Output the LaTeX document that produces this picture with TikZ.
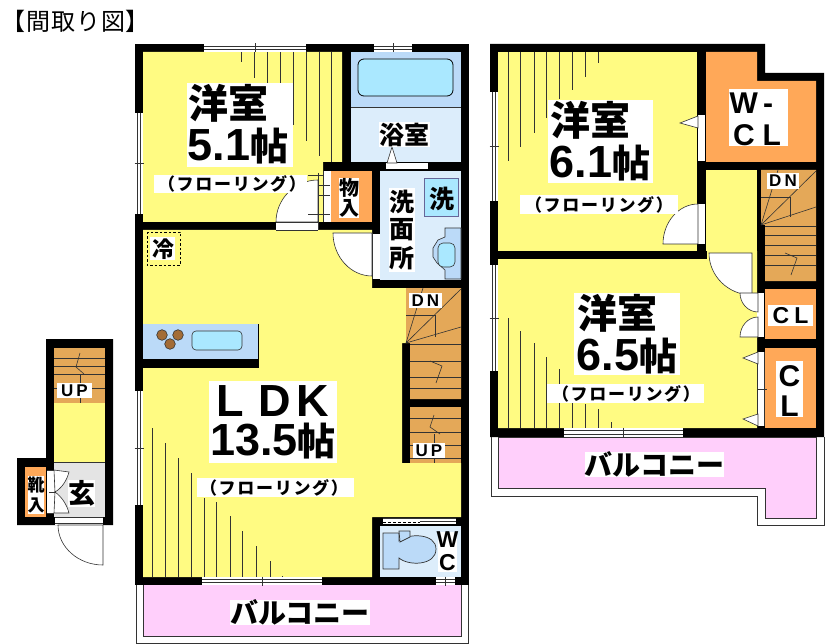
\documentclass[tikz,border=0pt]{standalone}
\usepackage{fontspec}
\setmainfont{Liberation Sans}
\newfontfamily\jpf{Noto Sans CJK JP}
\newcommand\fsz[1]{\fontsize{#1}{#1}\selectfont}
\definecolor{yel}{HTML}{FFFB82}
\definecolor{org}{HTML}{FFA858}
\definecolor{sta}{HTML}{E4A858}
\definecolor{pnk}{HTML}{FFCFFB}
\definecolor{blu}{HTML}{BBDAF8}
\definecolor{pal}{HTML}{DCEDFB}
\definecolor{cya}{HTML}{AAE8FF}
\definecolor{gra}{HTML}{E4E4E4}
\definecolor{lin}{HTML}{333333}
\tikzset{
 wall/.style={fill=black},
 thin line/.style={draw=lin,line width=.6pt},
 hatch/.style={draw=lin,line width=.8pt},
 txt/.style={inner sep=0pt,font=\jpf\bfseries},
 doorpanel/.style={fill=white,draw=lin,line width=.6pt},
}
\newcommand\hwin[4]{\fill[white] (#1,#2) rectangle (#3,#4);
 \draw[thin line] (#1,#2+2.5) -- (#3,#2+2.5) (#1,#4-2.5) -- (#3,#4-2.5);
 \draw[thin line] ({(#1+#3)/2},#2-.5) -- ({(#1+#3)/2},#4+.5);}
\newcommand\vwin[4]{\fill[white] (#1,#2) rectangle (#3,#4);
 \draw[thin line] (#1+2.5,#2) -- (#1+2.5,#4) (#3-2.5,#2) -- (#3-2.5,#4);
 \draw[thin line] (#1-.5,{(#2+#4)/2}) -- (#3+.5,{(#2+#4)/2});}
\newcommand\boxw[4]{\fill[white] (#1,#2) rectangle (#3,#4);}
% door sector: centre (#1,#2), leaf end (#3,#4), arc end (#5,#6)
\newcommand\qdoor[6]{\draw[doorpanel] (#3,#4) .. controls ({#3+.55*(#5-#1)},{#4+.55*(#6-#2)}) and ({#5+.55*(#3-#1)},{#6+.55*(#4-#2)}) .. (#5,#6) -- (#1,#2) -- cycle;}
\newcommand\floor[3]{\node[txt,font=\jpf\bfseries\fsz{17}\addfontfeature{LetterSpace=10}] (#1) at (#2,#3) {（フローリング）};}
\newcommand\roomt[5]{\node[txt,font=\jpf\bfseries\fsz{40}] (#1a) at (#2-10,#3) {洋室};
 \node[txt,font=\bfseries\fsz{45}] (#1b) at (#2,#3+43) {#4\jpf\fsz{38}#5};}
\begin{document}
\begin{tikzpicture}[x=1pt,y=-1pt]
\useasboundingbox (0,0) rectangle (829,644);
\fill[white] (0,0) rectangle (829,644);
\node[txt,font=\jpf\fsz{24}\addfontfeature{LetterSpace=4},anchor=west] (title) at (1,21) {【間取り図】};

%% ===== main left building =====
\fill[wall] (135,44) rectangle (469,585);
\fill[pnk] (143,585) rectangle (461,636);
\draw[thin line] (136,585) -- (136,643) -- (468,643) -- (468,585);
\draw[thin line] (143,585) -- (143,636) -- (461,636) -- (461,585);
\fill[yel] (143,52) -- (342,52) -- (342,162) -- (323,162) -- (323,222) -- (143,222) -- cycle;
\fill[org] (331,171) rectangle (372,222);
\fill[white] (323,171) rectangle (331,222);
\fill[blu] (351,52) rectangle (461,107);
\fill[pal] (351,107) rectangle (461,162);
\draw[thin line] (351,107) -- (461,107);
\draw[line width=.8pt,draw=black,fill=cya,rounded corners=6pt] (358,59) rectangle (453,96);
\fill[pal] (380,171) rectangle (461,280);
\draw[draw=gray!80!blue,line width=1pt,fill=cya] (424,179) rectangle (458,217);
\draw[thin line,fill=blu] (445,228) -- (461,228) -- (461,279) -- (445,279) -- (445,270) -- (437,263) -- (433,257) -- (433,248) -- (438,240) -- (445,237) -- cycle;
\draw[thin line,fill=cya,rounded corners=5pt] (438,243) rectangle (455,267);
\fill[yel] (143,230) -- (372,230) -- (372,288) -- (406,288) -- (406,343) -- (402,343) -- (402,463) -- (461,463) -- (461,517) -- (372,517) -- (372,577) -- (143,577) -- cycle;
\fill[wall] (143,324) rectangle (259,368);
\fill[blu] (143,324) rectangle (258,359);
\draw[thin line,fill=cya,rounded corners=4pt] (192,331) rectangle (242,350);
\draw[thin line,fill=brown!85!black] (162,335) circle (5.3);
\draw[thin line,fill=brown!85!black] (178,335) circle (5.3);
\draw[thin line,fill=brown!85!black] (170,344) circle (5.3);
\draw[line width=.8pt,draw=black,dash pattern=on 2.5pt off 2pt] (147,232) rectangle (180,265);
\fill[sta] (406,288) -- (461,288) -- (461,399) -- (410,399) -- (410,343) -- (406,343) -- cycle;
\foreach \yy in {344,361,377,388} \draw[thin line] (410,\yy) -- (461,\yy);
\coordinate (pivL) at (406,343);
\draw[thin line] (pivL) -- (423,288) (pivL) -- (461,289) (pivL) -- (461,327);
\draw[thin line] (406,315) -- (435,315) -- (435,337);
\draw[thin line] (430,361) -- (442,366) -- (436,383);
\fill[sta] (410,407) rectangle (461,463);
\foreach \yy in {418,432,445,458} \draw[thin line] (410,\yy) -- (461,\yy);
\draw[thin line] (434,415) -- (430,427) -- (440,434);
\draw[thin line] (434,434) -- (434,463);
% WC
\fill[pal] (380,526) rectangle (461,577);
\fill[white] (383,518) rectangle (456,524);
\draw[thin line] (383,518) -- (456,518);
\draw[dash pattern=on 3pt off 2pt,line width=1pt] (383,522) -- (420,522);
\draw[thin line] (420,521) -- (456,521);
\draw[draw=lin,line width=.7pt,fill=blu] (383,533) -- (399,533) -- (399,541) .. controls (408,533) and (436,533) .. (436,549) .. controls (436,566) and (408,566) .. (399,558) -- (399,569) -- (383,569) -- cycle;
\draw[draw=lin,line width=.7pt,fill=blu] (399,531) -- (410,531) -- (410,537) -- (400,542) -- cycle;
% hatch
\foreach \xx/\yy in {241.7/62,254/78,267.3/83,280/83,293.3/125,306/141,319/156,331.7/162} \draw[hatch] (\xx,52) -- (\xx,\yy);
\foreach \xx/\yy in {152.7/428,165/443,178.7/458,191/473,204.3/498,216.7/502,230.3/516,242.7/531,256/546,270/561,282/576} \draw[hatch] (\xx,\yy) -- (\xx,577);
% door 5.1
\fill[white] (276,222) rectangle (318,230);
\draw[thin line] (276,222) -- (318,222) (276,230) -- (318,230);
\qdoor{318}{222}{318}{180}{276}{222}
\draw[thin line] (318,173) -- (318,230);
\draw[thin line] (308,175) -- (323,175) (318,185) -- (330,185) (318,195) -- (330,195) (308,214) -- (330,214);
\draw[thin line] (323,171) -- (323,222);
% bath door
\fill[white] (386,163) rectangle (428,169);
\draw[doorpanel] (392,147) -- (387,163) -- (397,163) -- cycle;
% wash door
\qdoor{372}{233}{333}{233}{372}{276}
\fill[white] (373,234) rectangle (380,279);
\draw[thin line] (372,233) -- (372,279);
% windows
\hwin{204}{44}{306}{52}
\hwin{374}{44}{412}{52}
\vwin{135}{113}{143}{214}
\vwin{135}{391}{143}{505}
\hwin{202}{577}{322}{585}
\hwin{436}{577}{455}{585}
% labels
\boxw{187}{83}{293}{167}
\roomt{r51}{238}{103}{5.1}{帖}
\boxw{154}{175}{307}{193}
\floor{f51}{232}{184}
\boxw{150}{237}{175}{260}
\node[txt,font=\jpf\bfseries\fsz{22}] (cold) at (163,249) {冷};
\boxw{379}{122}{430}{147}
\node[txt,font=\jpf\bfseries\fsz{25}] (bath) at (404.5,134.5) {浴室};
\boxw{339}{178}{359}{218}
\node[txt,font=\jpf\bfseries\fsz{20}] (cl1a) at (349,188) {物};
\node[txt,font=\jpf\bfseries\fsz{20}] (cl1b) at (349,208) {入};
\boxw{389}{188}{415}{272}
\foreach \nm/\yy/\ch in {w1/202/洗,w2/230/面,w3/258/所} \node[txt,font=\jpf\bfseries\fsz{25}] (\nm) at (402,\yy) {\ch};
\node[txt,font=\jpf\bfseries\fsz{25}] (wm) at (442,199) {洗};
\boxw{409}{293}{442}{308}
\node[txt,font=\bfseries\fsz{17}] (dn1) at (425.5,300.5) {D\hspace{3pt}N};
\boxw{413}{443}{445}{458}
\node[txt,font=\bfseries\fsz{17}] (up1) at (429,450.5) {U\hspace{3pt}P};
\boxw{209}{381}{337}{463}
\node[txt,align=center,font=\bfseries\fontsize{45}{39}\selectfont] (ldk) at (273,422.5) {L\hspace{14pt}D\hspace{6pt}K\\13.5{\jpf\fontsize{38}{39}\selectfont 帖}};
\boxw{197}{478}{354}{497}
\floor{fldk}{274}{487.5}
\boxw{438}{532}{457}{572}
\node[txt,font=\bfseries\fsz{23}] (wc1) at (447.5,540) {W};
\node[txt,font=\bfseries\fsz{23}] (wc2) at (447.5,563) {C};
\boxw{230}{600}{370}{625}
\node[txt,font=\jpf\bfseries\fsz{28}] (bal1) at (300,612.5) {バルコニー};

%% ===== upper right building =====
\fill[wall] (490,44) -- (765,44) -- (765,73) -- (824,73) -- (824,437) -- (490,437) -- cycle;
\draw[thin line] (491,437) -- (491,496) -- (757,496) -- (757,525) -- (824,525) -- (824,437);
\draw[thin line,fill=pnk] (498,437) -- (498,488) -- (765,488) -- (765,518) -- (816,518) -- (816,437) -- cycle;
\fill[yel] (498,52) rectangle (697,251);
\fill[org] (706,52) -- (757,52) -- (757,81) -- (816,81) -- (816,162) -- (706,162) -- cycle;
\fill[yel] (706,170) rectangle (757,251);
\fill[yel] (498,259) -- (707,259) -- (707,251) -- (757,251) -- (757,428) -- (498,428) -- cycle;
\fill[sta] (761,170) -- (816,170) -- (816,281) -- (765,281) -- (765,225) -- (761,225) -- cycle;
\foreach \yy in {226,235,245,255,265} \draw[thin line] (765,\yy) -- (816,\yy);
\coordinate (pivR) at (761,225);
\draw[thin line] (pivR) -- (778,170) (pivR) -- (816,171) (pivR) -- (816,207);
\draw[thin line] (761,197) -- (790,197) -- (790,217);
\draw[thin line] (785,253) -- (797,258) -- (791,275);
\fill[org] (765,289) rectangle (816,339);
\fill[org] (765,348) rectangle (816,428);
\foreach \xx/\yy in {508/161,520/147,534/133,546/118,559/99,572/90,585/77,598/63} \draw[hatch] (\xx,52) -- (\xx,\yy);
\foreach \xx/\yy in {508/318,520/331,534/343,546/357,559/369,572/397,585/404,598/409,611/422} \draw[hatch] (\xx,\yy) -- (\xx,428);
% doors
\fill[white] (698,115) rectangle (705,161);
\draw[doorpanel] (680,123) -- (698,116) -- (698,128) -- cycle;
\fill[white] (698,204) rectangle (705,244);
\qdoor{698}{244}{698}{204}{663}{244}
\qdoor{752}{253}{709}{253}{752}{295}
\fill[white] (757,293) rectangle (764,337);
\qdoor{758}{293}{740}{293}{758}{312}
\qdoor{758}{337}{740}{337}{758}{317}
\fill[white] (757,352) rectangle (764,426);
\draw[thin line] (757,352) -- (757,426) (764,352) -- (764,426);
\draw[thin line] (757,389) -- (767,389);
\draw[doorpanel] (743,358) -- (758,352) -- (758,364) -- cycle;
\draw[doorpanel] (743,419) -- (758,414) -- (758,426) -- cycle;
\vwin{490}{92}{498}{201}
\vwin{490}{265}{498}{371}
\hwin{564}{428}{683}{437}
% labels
\boxw{548}{100}{653}{183}
\roomt{r61}{600}{120}{6.1}{帖}
\boxw{520}{195}{678}{214}
\floor{f61}{599}{204.5}
\boxw{574}{293}{680}{375}
\roomt{r65}{627}{313}{6.5}{帖}
\boxw{547}{384}{704}{403}
\floor{f65}{626}{393.5}
\boxw{729}{89}{788}{146}
\node[txt,font=\bfseries\fsz{30},anchor=west] (wcl1) at (729.5,103) {W\hspace{5pt}-};
\node[txt,font=\bfseries\fsz{30}] (wcl2) at (757,135) {C\hspace{8pt}L};
\boxw{767}{173}{799}{189}
\node[txt,font=\bfseries\fsz{17}] (dn2) at (783,181) {D\hspace{3pt}N};
\boxw{768}{305}{813}{326}
\node[txt,font=\bfseries\fsz{23}] (cl2) at (790.5,315.5) {C\hspace{5pt}L};
\boxw{776}{361}{803}{417}
\node[txt,font=\bfseries\fsz{30}] (cl3a) at (789.5,376) {C};
\node[txt,font=\bfseries\fsz{30}] (cl3b) at (789.5,406) {L};
\boxw{585}{452}{724}{477}
\node[txt,font=\jpf\bfseries\fsz{28}] (bal2) at (654.5,464.5) {バルコニー};

%% ===== entry building =====
\fill[wall] (46,339) -- (113,339) -- (113,525) -- (17,525) -- (17,458) -- (46,458) -- cycle;
\fill[sta] (54,348) rectangle (105,403);
\foreach \yy in {358,366,374,388} \draw[thin line] (54,\yy) -- (105,\yy);
\draw[thin line] (80,353) -- (76,367) -- (84,374);
\draw[thin line] (80,374) -- (80,403);
\fill[yel] (54,403) rectangle (105,462);
\fill[gra] (54,462) rectangle (105,517);
\draw[thin line] (54,462) -- (105,462);
\fill[org] (25,467) rectangle (46,517);
\fill[white] (47,470) rectangle (54,513);
\draw[doorpanel] (54,470) -- (69,472) .. controls (67,480) and (62,488) .. (55,492) -- cycle;
\draw[doorpanel] (54,513) -- (69,513) .. controls (67,505) and (62,497) .. (55,492) -- cycle;
\draw[thin line] (47,470) -- (54,470) (47,513) -- (54,513) (49,492) -- (55,492);
\fill[white] (55,517) rectangle (103,525);
\draw[thin line] (55,517) -- (103,517) (55,523) -- (103,523);
\qdoor{103}{525}{58}{525}{103}{565}
\boxw{57}{383}{92}{398}
\node[txt,font=\bfseries\fsz{17}] (up2) at (74.5,390.5) {U\hspace{3pt}P};
\boxw{28}{476}{44}{514}
\node[txt,font=\jpf\bfseries\fsz{17}] (sh1) at (36,485) {靴};
\node[txt,font=\jpf\bfseries\fsz{17}] (sh2) at (36,505) {入};
\boxw{68}{480}{95}{507}
\node[txt,font=\jpf\bfseries\fsz{27}] (gen) at (81.5,493.5) {玄};
\end{tikzpicture}
\end{document}
